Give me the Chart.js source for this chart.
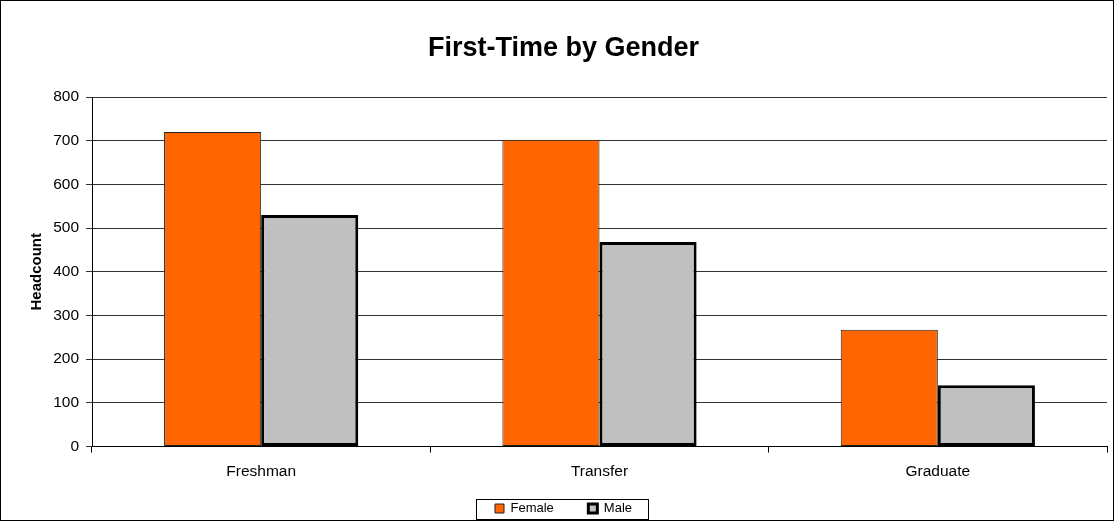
<!DOCTYPE html>
<html>
<head>
<meta charset="utf-8">
<script src="https://cdn.jsdelivr.net/npm/chart.js@4/dist/chart.umd.min.js"></script>
<style>
  body { margin: 0; background: #fff; }
  canvas { display: block; }
</style>
</head>
<body>
<canvas id="chart" width="1115" height="521"></canvas>
<script>
// Data
const categories = ['Freshman', 'Transfer', 'Graduate'];
const seriesNames = ['Female', 'Male'];
const female = [720, 702, 267];
const male = [530, 468, 140];
const yTicks = [0, 100, 200, 300, 400, 500, 600, 700, 800];

const FONT = 'Arial, "Liberation Sans", sans-serif';

// frame around the whole chart and a box around the legend
const framePlugin = {
  id: 'frame',
  afterDraw(c) {
    const ctx = c.ctx;
    ctx.save();
    ctx.strokeStyle = '#000';
    ctx.lineWidth = 1;
    ctx.strokeRect(0.5, 0.5, c.width - 2, c.height - 1);
    const boxes = c.legend.legendHitBoxes;
    if (boxes && boxes.length) {
      const first = boxes[0], last = boxes[boxes.length - 1];
      const l = Math.round(first.left) - 18.5;
      const r = Math.round(last.left + last.width) + 16.5;
      const mid = first.top + first.height / 2;
      const t = Math.round(mid - 9) - 0.5;
      const b = Math.round(mid + 10) + 0.5;
      ctx.strokeRect(l, t, r - l, b - t);
    }
    ctx.restore();
  }
};

new Chart(document.getElementById('chart'), {
  type: 'bar',
  data: {
    labels: categories,
    datasets: [
      {
        label: seriesNames[0],
        data: female,
        backgroundColor: '#FF6600',
        borderColor: '#222',
        borderWidth: 1,
        borderSkipped: false
      },
      {
        label: seriesNames[1],
        data: male,
        backgroundColor: '#C0C0C0',
        borderColor: '#000',
        borderWidth: 3,
        borderSkipped: false
      }
    ]
  },
  options: {
    responsive: false,
    devicePixelRatio: 1,
    animation: false,
    layout: { padding: { left: 20, right: 8, top: 0, bottom: -4 } },
    datasets: {
      bar: { categoryPercentage: 0.574, barPercentage: 1 }
    },
    plugins: {
      title: {
        display: true,
        text: 'First-Time by Gender',
        color: '#000',
        font: { family: FONT, size: 27, weight: 'bold' },
        padding: { top: 32, bottom: 32.6 }
      },
      legend: {
        position: 'bottom',
        labels: {
          color: '#000',
          font: { family: FONT, size: 13 },
          boxWidth: 9,
          boxHeight: 9,
          padding: 2,
          generateLabels(chart) {
            const items = Chart.defaults.plugins.legend.labels.generateLabels(chart);
            // extra gap after every item but the last
            items.forEach((it, i) => {
              if (i < items.length - 1) it.text = it.text + '\u2003\u2003\u2002';
            });
            return items;
          }
        }
      },
      tooltip: { enabled: false }
    },
    scales: {
      x: {
        afterFit(scale) { scale.height = 53.5; },
        grid: {
          display: true,
          drawOnChartArea: false,
          offset: true,
          color: '#000',
          tickLength: 6
        },
        border: { color: '#000', width: 1 },
        ticks: {
          color: '#000',
          font: { family: FONT, size: 15.5 },
          padding: 10
        }
      },
      y: {
        min: 0,
        max: 800,
        afterBuildTicks(scale) {
          scale.ticks = yTicks.map(v => ({ value: v }));
        },
        afterFit(scale) { scale.width = 72; },
        grid: {
          color: '#333',
          tickLength: 6
        },
        border: { color: '#000', width: 1 },
        ticks: {
          color: '#000',
          font: { family: FONT, size: 15.5 },
          padding: 7
        },
        title: {
          display: true,
          text: 'Headcount',
          color: '#000',
          font: { family: FONT, size: 15, weight: 'bold' },
          padding: { top: 8, bottom: 0 }
        }
      }
    }
  },
  plugins: [framePlugin]
});
</script>
</body>
</html>
